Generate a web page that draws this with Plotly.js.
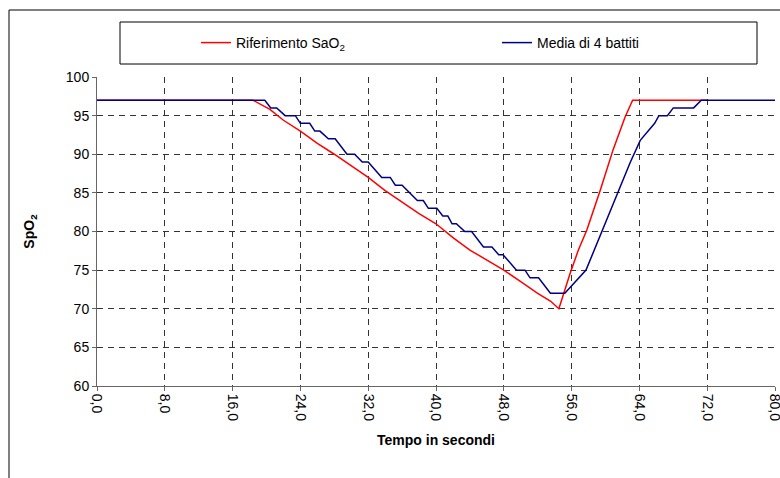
<!DOCTYPE html>
<html>
<head>
<meta charset="utf-8">
<script src="https://cdn.plot.ly/plotly-3.0.1.min.js"></script>
<style>html,body{margin:0;padding:0;background:#fff;}#chart{width:780px;height:478px;}</style>
</head>
<body>
<div id="chart"></div>
<script>
// Riferimento SaO2 (red)
const redTime = [0, 18.4, 20.4, 22, 24, 26, 28, 30, 32, 34, 36, 38, 40, 42, 44, 46, 48, 50, 52, 53.5, 54.5, 55.8, 56.8, 57.8, 59.4, 60.9, 62.3, 63.2, 72];
const redVal  = [97, 97, 95.8, 94.4, 93, 91.4, 90, 88.5, 87, 85.3, 83.8, 82.3, 81, 79.2, 77.6, 76.3, 75, 73.5, 72, 71, 70, 74.5, 77.6, 80.2, 85.4, 90.6, 94.8, 97, 97];
// Media di 4 battiti (blue)
const blueTime = [0, 19.8, 20.5, 21.2, 22.2, 23.4, 24, 25.1, 25.7, 26.3, 27.3, 28.1, 29.5, 30.4, 31.3, 32, 33.6, 34.6, 35.2, 36, 37.8, 38.5, 39.1, 40.1, 40.8, 41.4, 41.9, 42.4, 43.4, 44.2, 45.6, 46.6, 47.4, 47.9, 49.5, 50.5, 51.1, 52.1, 53.5, 55.2, 57.7, 59, 60.3, 61.7, 62.9, 64.1, 64.9, 65.8, 66.3, 67.3, 68, 70.4, 71.3, 80];
const blueVal  = [97, 97, 96, 96, 95, 95, 94, 94, 93, 93, 92, 92, 90, 90, 89, 89, 87, 87, 86, 86, 84, 84, 83, 83, 82, 82, 81, 81, 80, 80, 78, 78, 77, 77, 75, 75, 74, 74, 72, 72, 75, 78.5, 81.9, 85.6, 88.9, 91.8, 92.9, 94, 95, 95, 96, 96, 97, 97];
const seriesNames = ['Riferimento SaO<sub>2</sub>', 'Media di 4 battiti'];
const xTicks = [0, 8, 16, 24, 32, 40, 48, 56, 64, 72, 80];
const yTicks = [60, 65, 70, 75, 80, 85, 90, 95, 100];

const FONT = 'Liberation Sans, Arial, sans-serif';
const traces = [
  {x: redTime, y: redVal, name: seriesNames[0], type: 'scatter', mode: 'lines', legend: 'legend',
   line: {color: '#ff0000', width: 1.5}},
  {x: blueTime, y: blueVal, name: seriesNames[1], type: 'scatter', mode: 'lines', legend: 'legend2',
   line: {color: '#000080', width: 1.5}}
];
const W = 678, H = 309, L = 97, B = 92;
function px(x){ return (x - L) / W; }
function py(y){ return (478 - B - y) / H; }
const legFont = {family: FONT, size: 14, color: '#000'};
const layout = {
  width: 780, height: 478,
  margin: {l: L, r: 780 - L - W, t: 478 - B - H, b: B},
  paper_bgcolor: '#fff', plot_bgcolor: '#fff',
  separators: ',.',
  font: {family: FONT, size: 14, color: '#000'},
  showlegend: true,
  legend: {x: px(196), y: py(43), yanchor: 'middle', xanchor: 'left',
           bgcolor: 'rgba(0,0,0,0)', font: legFont},
  legend2: {x: px(497), y: py(43), yanchor: 'middle', xanchor: 'left',
           bgcolor: 'rgba(0,0,0,0)', font: legFont},
  xaxis: {range: [0, 80], tickvals: xTicks, tickformat: '.1f', tickangle: 90,
          ticklabeloverflow: 'allow',
          showgrid: true, gridcolor: '#333', griddash: '6px,5px', gridwidth: 1,
          showline: true, linecolor: '#666', linewidth: 1, zeroline: false,
          ticks: 'outside', ticklen: 4, tickcolor: '#666',
          tickfont: {family: FONT, size: 14, color: '#000'},
          title: {text: '<b>Tempo in secondi</b>', font: {family: FONT, size: 14, color: '#000'}, standoff: 14}},
  yaxis: {range: [60, 100], tickvals: yTicks,
          showgrid: true, gridcolor: '#333', griddash: '6px,5px', gridwidth: 1,
          showline: true, linecolor: '#666', linewidth: 1, zeroline: false,
          ticks: 'outside', ticklen: 4, tickcolor: '#666',
          tickfont: {family: FONT, size: 14, color: '#000'},
          title: {text: '<b>SpO<sub>2</sub></b>', font: {family: FONT, size: 14, color: '#000'}, standoff: 27}},
  shapes: [
    {type: 'rect', xref: 'paper', yref: 'paper', x0: px(9), x1: px(800), y0: py(500), y1: py(10),
     line: {color: '#000', width: 1}, fillcolor: 'rgba(0,0,0,0)', layer: 'below'},
    {type: 'rect', xref: 'paper', yref: 'paper', x0: px(120), x1: px(757), y0: py(64), y1: py(22),
     line: {color: '#000', width: 1}, fillcolor: 'rgba(0,0,0,0)'}
  ]
};
Plotly.newPlot('chart', traces, layout, {displayModeBar: false, staticPlot: true});
</script>
</body>
</html>
